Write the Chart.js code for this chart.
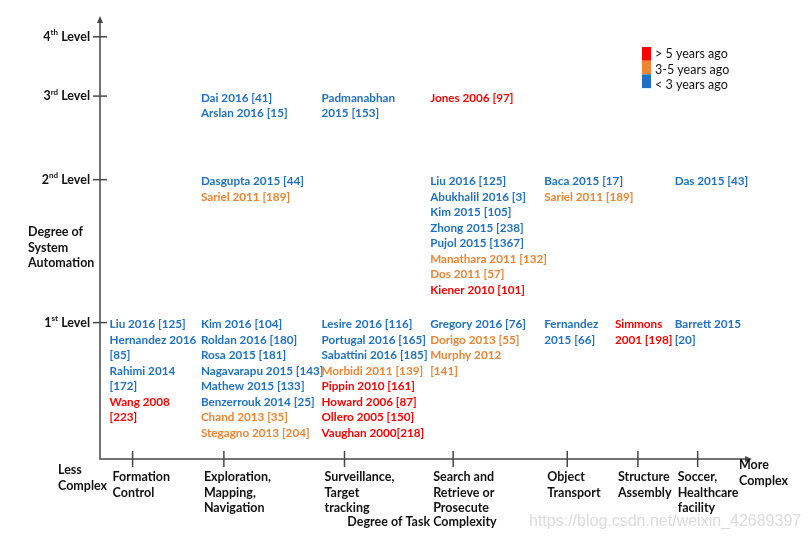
<!DOCTYPE html>
<html>
<head>
<meta charset="utf-8">
<script src="https://cdn.jsdelivr.net/npm/chart.js@4.4.1/dist/chart.umd.min.js"></script>
<style>
  html, body { margin: 0; padding: 0; background: #fff; }
  #wrap { width: 810px; height: 540px; position: relative; }
</style>
</head>
<body>
<div id="wrap"><canvas id="grafico"></canvas></div>
<script>
// categories on the task axis (each label split in lines) and where they sit on it
const tasks = [
    ['Formation', 'Control'],
    ['Exploration,', 'Mapping,', 'Navigation'],
    ['Surveillance,', 'Target', 'tracking'],
    ['Search and', 'Retrieve or', 'Prosecute'],
    ['Object', 'Transport'],
    ['Structure', 'Assembly'],
    ['Soccer,', 'Healthcare', 'facility']
];
const taskX = [0.3, 1.14, 2.25, 3.25, 4.3, 4.95, 5.5];

const levels = [1, 2, 3, 4];
const levelNames = ['1st Level', '2nd Level', '3rd Level', '4th Level'];

// papers per task, one array per automation level ("\n" = wrapped line)
const level1Papers = [
    ['Liu 2016 [125]', 'Hernandez 2016\n[85]', 'Rahimi 2014\n[172]', 'Wang 2008\n[223]'],
    ['Kim 2016 [104]', 'Roldan 2016 [180]', 'Rosa 2015 [181]', 'Nagavarapu 2015 [143]',
     'Mathew 2015 [133]', 'Benzerrouk 2014 [25]', 'Chand 2013 [35]', 'Stegagno 2013 [204]'],
    ['Lesire 2016 [116]', 'Portugal 2016 [165]', 'Sabattini 2016 [185]', 'Morbidi 2011 [139]',
     'Pippin 2010 [161]', 'Howard 2006 [87]', 'Ollero 2005 [150]', 'Vaughan 2000[218]'],
    ['Gregory 2016 [76]', 'Dorigo 2013 [55]', 'Murphy 2012\n[141]'],
    ['Fernandez\n2015 [66]'],
    ['Simmons\n2001 [198]'],
    ['Barrett 2015\n[20]']
];
const level2Papers = [
    [],
    ['Dasgupta 2015 [44]', 'Sariel 2011 [189]'],
    [],
    ['Liu 2016 [125]', 'Abukhalil 2016 [3]', 'Kim 2015 [105]', 'Zhong 2015 [238]',
     'Pujol 2015 [1367]', 'Manathara 2011 [132]', 'Dos 2011 [57]', 'Kiener 2010 [101]'],
    ['Baca 2015 [17]', 'Sariel 2011 [189]'],
    [],
    ['Das 2015 [43]']
];
const level3Papers = [
    [],
    ['Dai 2016 [41]', 'Arslan 2016 [15]'],
    ['Padmanabhan\n2015 [153]'],
    ['Jones 2006 [97]'],
    [], [], []
];
const level4Papers = [[], [], [], [], [], [], []];

const ageNames = ['> 5 years ago', '3-5 years ago', '< 3 years ago'];
const ageColors = ['#ff0000', '#f08432', '#1f72c3'];

function ageOf(txt) {
    const ano = parseInt(txt.match(/\d{4}/)[0], 10);
    if (ano >= 2014) return 2;
    if (ano >= 2011) return 1;
    return 0;
}

const pontos = [];
[level1Papers, level2Papers, level3Papers, level4Papers].forEach((lista, li) => {
    lista.forEach((papers, ti) => {
        if (papers.length) pontos.push({ x: taskX[ti], y: levels[li], papers: papers });
    });
});

const FONTE = 'Lato, "Liberation Sans", sans-serif';
const LINHA = 15.5;
const EIXO = '#474747';

const desenho = {
    id: 'desenho',
    afterDatasetsDraw(chart) {
        const ctx = chart.ctx;
        const xs = chart.scales.x, ys = chart.scales.y;
        const area = chart.chartArea;
        ctx.save();

        // axes with arrows
        ctx.strokeStyle = EIXO;
        ctx.fillStyle = EIXO;
        ctx.lineWidth = 1.5;
        ctx.beginPath();
        ctx.moveTo(area.left, area.top + 4);
        ctx.lineTo(area.left, area.bottom);
        ctx.lineTo(area.right - 4, area.bottom);
        ctx.stroke();
        ctx.beginPath();
        ctx.moveTo(area.left, area.top);
        ctx.lineTo(area.left - 3, area.top + 7);
        ctx.lineTo(area.left + 3, area.top + 7);
        ctx.fill();
        ctx.beginPath();
        ctx.moveTo(area.right, area.bottom);
        ctx.lineTo(area.right - 7, area.bottom - 3);
        ctx.lineTo(area.right - 7, area.bottom + 3);
        ctx.fill();

        // level ticks and labels
        ctx.textBaseline = 'middle';
        levels.forEach((lv, i) => {
            const y = ys.getPixelForValue(lv);
            ctx.strokeStyle = EIXO;
            ctx.beginPath();
            ctx.moveTo(area.left - 7, y);
            ctx.lineTo(area.left + 7, y);
            ctx.stroke();
            const m = levelNames[i].match(/^(\d)(\D\D)(.*)$/);
            ctx.fillStyle = '#111';
            ctx.font = 'bold 12.5px ' + FONTE;
            const wNum = ctx.measureText(m[1]).width;
            const wRest = ctx.measureText(m[3]).width;
            ctx.font = 'bold 8px ' + FONTE;
            const wSup = ctx.measureText(m[2]).width;
            let x = area.left - 10 - wRest - wSup - wNum;
            ctx.textAlign = 'left';
            ctx.font = 'bold 12.5px ' + FONTE;
            ctx.fillText(m[1], x, y);
            ctx.font = 'bold 8px ' + FONTE;
            ctx.fillText(m[2], x + wNum, y - 4);
            ctx.font = 'bold 12.5px ' + FONTE;
            ctx.fillText(m[3], x + wNum + wSup, y);
        });

        // task ticks and labels
        tasks.forEach((linhas, i) => {
            const x = xs.getPixelForValue(taskX[i]);
            ctx.strokeStyle = EIXO;
            ctx.beginPath();
            ctx.moveTo(x, area.bottom - 8);
            ctx.lineTo(x, area.bottom + 8);
            ctx.stroke();
            ctx.fillStyle = '#111';
            ctx.font = 'bold 12.5px ' + FONTE;
            linhas.forEach((t, k) => ctx.fillText(t, x - 20, area.bottom + 18 + k * LINHA));
        });

        // axis titles
        ctx.font = 'bold 12.5px ' + FONTE;
        ['Degree of', 'System', 'Automation'].forEach((t, k) => ctx.fillText(t, 28, 232 + k * LINHA));
        ['Less', 'Complex'].forEach((t, k) => ctx.fillText(t, 58, area.bottom + 11 + k * LINHA));
        ['More', 'Complex'].forEach((t, k) => ctx.fillText(t, area.right - 13, area.bottom + 6 + k * LINHA));
        ctx.textAlign = 'center';
        ctx.fillText('Degree of Task Complexity', 422, 522);

        // watermark
        ctx.textAlign = 'left';
        ctx.fillStyle = '#dcdcdc';
        ctx.font = '16px "Liberation Sans", sans-serif';
        ctx.fillText('https://blog.csdn.net/weixin_42689397', 529, 522);

        // paper lists at each (task, level) point
        const meta = chart.getDatasetMeta(0);
        ctx.font = 'bold 11.7px ' + FONTE;
        meta.data.forEach((el, i) => {
            let linha = 0;
            pontos[i].papers.forEach(p => {
                ctx.fillStyle = ageColors[ageOf(p)];
                p.split('\n').forEach(t => {
                    ctx.fillText(t, el.x - 23, el.y + 2 + linha * LINHA);
                    linha++;
                });
            });
        });

        // legend
        ageNames.forEach((nome, i) => {
            ctx.fillStyle = ageColors[i];
            ctx.fillRect(642, 47 + i * 13.7, 9, 13.7);
            ctx.fillStyle = '#111';
            ctx.font = '12.5px ' + FONTE;
            ctx.fillText(nome, 655, 54 + i * 15.5);
        });

        ctx.restore();
    }
};

new Chart(document.getElementById('grafico'), {
    type: 'scatter',
    data: {
        datasets: [{
            data: pontos,
            pointRadius: 0,
            pointHoverRadius: 0
        }]
    },
    options: {
        responsive: true,
        maintainAspectRatio: false,
        animation: false,
        events: [],
        layout: { padding: { left: 100, right: 58, top: 16, bottom: 81 } },
        plugins: {
            legend: { display: false },
            tooltip: { enabled: false }
        },
        scales: {
            x: { type: 'linear', min: 0, max: 6, display: false },
            y: { type: 'logarithmic', min: 0.516, max: 4.424, display: false }
        }
    },
    plugins: [desenho]
});
</script>
</body>
</html>
